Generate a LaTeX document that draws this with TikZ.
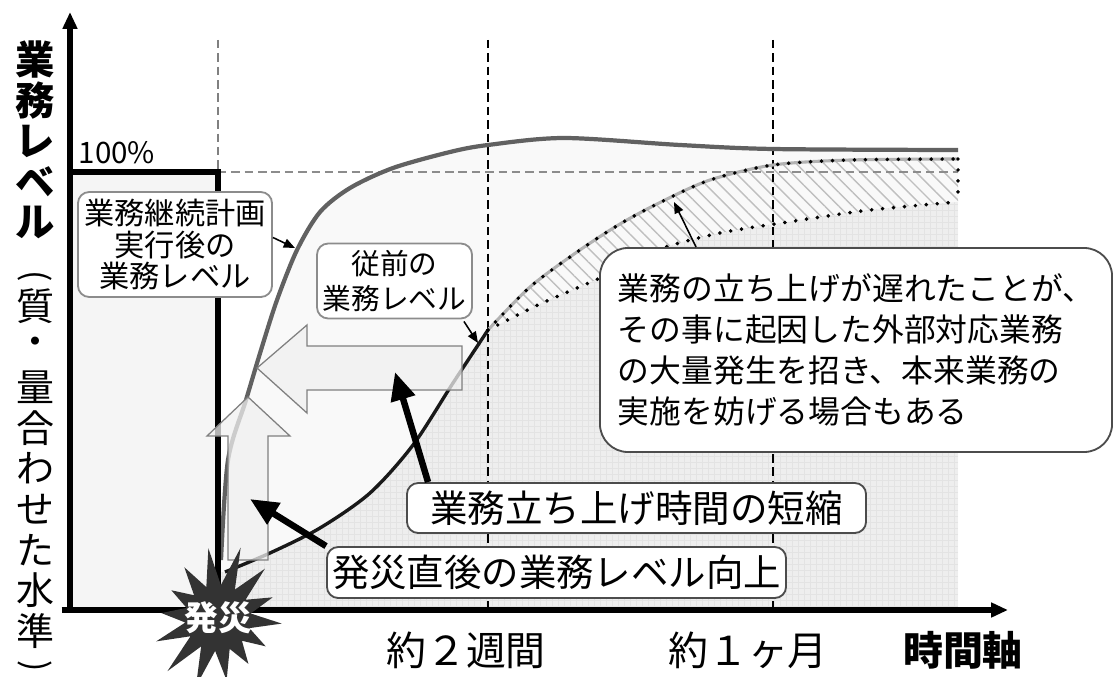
\documentclass[tikz,border=0pt]{standalone}
\usepackage{fontspec}
\setmainfont{Noto Sans CJK JP}
\usetikzlibrary{arrows.meta,patterns.meta,calc}

\newcommand{\fsz}[2]{\fontsize{#1}{#2}\selectfont}

\begin{document}
\begin{tikzpicture}[x=0.025cm, y=-0.025cm,
	bubble/.style={draw=black!45, line width=1.3pt, fill=white, rounded corners=8pt, inner sep=2pt, align=center},
	bigarrow/.style={line width=4.6pt, -{Triangle[length=20pt,width=17pt]}},
	thinarrow/.style={line width=1.1pt, -{Triangle[length=8pt,width=6.5pt]}},
	blockarrow/.style={draw=black!50, line width=0.9pt, fill=gray!12, fill opacity=0.75},
	guide/.style={line width=0.9pt, dash pattern=on 6pt off 3.5pt},
	dots/.style={line width=2.8pt, line cap=round, dash pattern=on 0pt off 7.8pt}]
	\def\px{0.7113pt}
	\def\bcppts{(221,560) (228,460) (246,400) (261,350) (277,300) (297,250) (320,212) (350,188) (393,168) (450,152) (488,145) (564,138) (680,145) (773,149) (958,150)}
	\def\oldpts{(225,572) (270,553) (320,528) (370,493) (413,445) (453,383) (488,330)}
	\def\uppts{(488,330) (530,287) (577,252) (620,224) (661,202) (710,180) (773,165) (850,160) (958,159)}
	\def\lowpts{(488,330) (540,304) (600,278) (657,250) (720,233) (788,222) (870,210) (958,202)}
	\def\lowrev{(958,202) (870,210) (788,222) (720,233) (657,250) (600,278) (540,304) (488,330)}
	
	\useasboundingbox (0,0) rectangle (1115,676);
	
	% shaded levels
	\fill[gray!8] (70,172) rectangle (218,610);
	\fill[gray!5] (221,610) -- plot[smooth] coordinates {\bcppts} -- (958,610) -- cycle;
	\begin{scope}
		\clip (218,610) -- (218,572) -- plot[smooth] coordinates {\oldpts} -- plot[smooth] coordinates {\lowpts} -- (958,610) -- cycle;
		\fill[gray!13] (218,130) rectangle (958,610);
		\draw[gray!22, line width=0.3pt, step=0.15cm] (218,610) grid (958,130);
	\end{scope}
	\fill[pattern={Lines[angle=-45,distance=7pt,line width=1pt]}, pattern color=gray!50] plot[smooth] coordinates {\uppts} -- (958,202) -- plot[smooth] coordinates {\lowrev} -- cycle;
	
	\draw[guide, black!50] (218,40) -- (218,172);
	\draw[guide, black!45, line width=1.3pt] (218,172) -- (958,172);
	\draw[guide] (488,40) -- (488,610);
	\draw[guide] (773,40) -- (773,610);
	
	% curves
	\draw[line width=2.4pt, black!90] plot[smooth] coordinates {\oldpts};
	\draw[line width=2.2pt, gray!60] plot[smooth] coordinates {\uppts};
	\draw[dots] plot[smooth] coordinates {\uppts};
	\draw[dots] plot[smooth] coordinates {\lowpts};
	\draw[dots] (958,159) -- (958,202);
	\draw[line width=3pt, black!62] plot[smooth] coordinates {\bcppts};
	
	\draw[line width=3.6pt] (70,172) -- (218,172) -- (218,610);
	
	\draw[blockarrow] (257,368) -- (307,325) -- (307,346) -- (462,346) -- (462,390) -- (307,390) -- (307,413) -- cycle;
	\draw[blockarrow] (248,397) -- (290,436) -- (268,436) -- (268,560) -- (228,560) -- (228,436) -- (207,436) -- cycle;
	
	% axes
	\coordinate (origin) at (70,610);
	\draw[line width=3.6pt, -{Triangle[length=12pt,width=10pt]}] ([yshift=-1.3pt]origin) -- (70,12);
	\draw[line width=3.6pt, -{Triangle[length=12pt,width=10pt]}] ([xshift=-6pt]origin) -- (1008,610);
	
	% burst
	\fill[black!80] plot[samples at={0,...,27}, variable=\k]
		({218+cos(\k*360/28+5)*(mod(\k,2)==0 ? 64+10*sin(\k*151) : 33)},
		 {618+sin(\k*360/28+5)*(mod(\k,2)==0 ? 64+10*sin(\k*151) : 33)}) -- cycle;
	\node[text=white, font=\fsz{24}{24}\bfseries] (disaster) at (218,618) {発災};
	
	\node[font=\fsz{21}{21}] (full) at (117,153) {100\%};
	
	\node[bubble, minimum width=194*\px, minimum height=105*\px, font=\fsz{21.5}{22.4}] (bcpbox) at (175,244.5) {業務継続計画\\実行後の\\業務レベル};
	\node[bubble, minimum width=155*\px, minimum height=75*\px, font=\fsz{20.4}{25}] (oldbox) at (394.5,281) {従前の\\業務レベル};
	\node[bubble, draw=black!70, minimum width=459*\px, minimum height=50*\px, font=\fsz{26.7}{26.7}] (shortbox) at (636.5,508) {業務立ち上げ時間の短縮};
	\node[bubble, draw=black!70, minimum width=459*\px, minimum height=51*\px, font=\fsz{26.6}{26.6}] (upbox) at (556.5,572.5) {発災直後の業務レベル向上};
	\node[bubble, draw=black!70, rounded corners=20pt, align=left, minimum width=512*\px, minimum height=204*\px, font=\fsz{22.6}{29}] (callout) at (856,350) {業務の立ち上げが遅れたことが、\\その事に起因した外部対応業務\\の大量発生を招き、本来業務の\\実施を妨げる場合もある};
	
	\coordinate (bcptip) at (295,248);
	\coordinate (oldtip) at (478,343);
	\coordinate (latetip) at (674,202);
	\coordinate (shorttip) at (395,372);
	\coordinate (uptip) at (250,499);
	\draw[thinarrow] ($(bcpbox.east)+(0,-7)$) -- (bcptip);
	\draw[thinarrow] ($(oldbox.south east)+(-9,2)$) -- (oldtip);
	\draw[thinarrow] ($(callout.north west)+(97,0)$) -- (latetip);
	\draw[bigarrow] ($(shortbox.north west)+(22,0)$) -- (shorttip);
	\draw[bigarrow] (upbox.north west) -- (uptip);
	
	% labels
	\foreach \c [count=\i from 0] in {業,務,レ,ベ,ル}
		\node[inner sep=0pt, font=\fsz{28}{28}\bfseries] (yb\i) at (35,{60+40.5*\i}) {\c};
	\node[inner sep=0pt, rotate=-90, font=\fsz{24}{24}] (ylpar) at (35,276) {(};
	\foreach \c [count=\i from 6] in {質,・,量,合,わ,せ,た,水,準}
		\node[inner sep=0pt, font=\fsz{27}{27}] (yn\i) at (35,{306+40.6*(\i-6)}) {\c};
	\node[inner sep=0pt, rotate=-90, font=\fsz{24}{24}] (yrpar) at (35,666) {)};
	\node[font=\fsz{28.4}{28.4}] (twoweeks) at (466,650) {約２週間};
	\node[font=\fsz{28.4}{28.4}] (onemonth) at (748,650) {約１ヶ月};
	\node[font=\fsz{28.4}{28.4}\bfseries] (timeaxis) at (963,650) {時間軸};
	
\end{tikzpicture}
\end{document}
